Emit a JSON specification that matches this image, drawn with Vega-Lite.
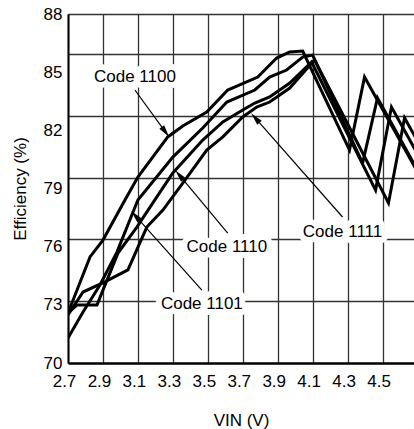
{
  "$schema": "https://vega.github.io/schema/vega-lite/v6.json",
  "width": 346,
  "height": 349,
  "autosize": {"type": "none"},
  "padding": {"left": 68, "top": 14, "right": 0, "bottom": 66},
  "background": "white",
  "config": {"view": {"stroke": null}, "font": "Liberation Sans"},
  "datasets": {
    "curves": [
      {"code": "1100", "vin": 2.7, "eff": 72.58},
      {"code": "1100", "vin": 2.826, "eff": 75.47},
      {"code": "1100", "vin": 2.9, "eff": 76.34},
      {"code": "1100", "vin": 3.026, "eff": 78.41},
      {"code": "1100", "vin": 3.1, "eff": 79.59},
      {"code": "1100", "vin": 3.271, "eff": 81.66},
      {"code": "1100", "vin": 3.357, "eff": 82.22},
      {"code": "1100", "vin": 3.494, "eff": 82.94},
      {"code": "1100", "vin": 3.614, "eff": 84.08},
      {"code": "1100", "vin": 3.786, "eff": 84.75},
      {"code": "1100", "vin": 3.854, "eff": 85.37},
      {"code": "1100", "vin": 3.894, "eff": 85.73},
      {"code": "1100", "vin": 3.969, "eff": 86.04},
      {"code": "1100", "vin": 4.043, "eff": 86.09},
      {"code": "1100", "vin": 4.311, "eff": 80.98},
      {"code": "1100", "vin": 4.397, "eff": 84.75},
      {"code": "1100", "vin": 4.7, "eff": 79.85},
      {"code": "1101", "vin": 2.7, "eff": 71.29},
      {"code": "1101", "vin": 2.786, "eff": 72.63},
      {"code": "1101", "vin": 2.883, "eff": 74.02},
      {"code": "1101", "vin": 2.98, "eff": 75.72},
      {"code": "1101", "vin": 3.1, "eff": 78.41},
      {"code": "1101", "vin": 3.3, "eff": 80.62},
      {"code": "1101", "vin": 3.471, "eff": 82.12},
      {"code": "1101", "vin": 3.609, "eff": 83.46},
      {"code": "1101", "vin": 3.769, "eff": 84.08},
      {"code": "1101", "vin": 3.854, "eff": 84.75},
      {"code": "1101", "vin": 3.951, "eff": 85.11},
      {"code": "1101", "vin": 4.043, "eff": 85.78},
      {"code": "1101", "vin": 4.1, "eff": 85.88},
      {"code": "1101", "vin": 4.386, "eff": 80.31},
      {"code": "1101", "vin": 4.471, "eff": 83.67},
      {"code": "1101", "vin": 4.7, "eff": 79.95},
      {"code": "1110", "vin": 2.7, "eff": 72.58},
      {"code": "1110", "vin": 2.751, "eff": 72.99},
      {"code": "1110", "vin": 2.866, "eff": 72.99},
      {"code": "1110", "vin": 2.9, "eff": 73.76},
      {"code": "1110", "vin": 2.986, "eff": 75.67},
      {"code": "1110", "vin": 3.094, "eff": 77.01},
      {"code": "1110", "vin": 3.197, "eff": 78.41},
      {"code": "1110", "vin": 3.3, "eff": 79.8},
      {"code": "1110", "vin": 3.471, "eff": 81.5},
      {"code": "1110", "vin": 3.586, "eff": 82.43},
      {"code": "1110", "vin": 3.7, "eff": 83.05},
      {"code": "1110", "vin": 3.769, "eff": 83.41},
      {"code": "1110", "vin": 3.854, "eff": 83.72},
      {"code": "1110", "vin": 3.969, "eff": 84.44},
      {"code": "1110", "vin": 4.094, "eff": 85.52},
      {"code": "1110", "vin": 4.46, "eff": 78.92},
      {"code": "1110", "vin": 4.551, "eff": 83.2},
      {"code": "1110", "vin": 4.7, "eff": 80.78},
      {"code": "1111", "vin": 2.7, "eff": 72.48},
      {"code": "1111", "vin": 2.786, "eff": 73.66},
      {"code": "1111", "vin": 2.911, "eff": 74.18},
      {"code": "1111", "vin": 3.043, "eff": 74.8},
      {"code": "1111", "vin": 3.151, "eff": 77.01},
      {"code": "1111", "vin": 3.243, "eff": 77.89},
      {"code": "1111", "vin": 3.357, "eff": 79.28},
      {"code": "1111", "vin": 3.494, "eff": 80.98},
      {"code": "1111", "vin": 3.586, "eff": 81.66},
      {"code": "1111", "vin": 3.7, "eff": 82.69},
      {"code": "1111", "vin": 3.78, "eff": 83.2},
      {"code": "1111", "vin": 3.854, "eff": 83.46},
      {"code": "1111", "vin": 3.969, "eff": 84.18},
      {"code": "1111", "vin": 4.111, "eff": 85.63},
      {"code": "1111", "vin": 4.534, "eff": 78.25},
      {"code": "1111", "vin": 4.626, "eff": 82.64},
      {"code": "1111", "vin": 4.7, "eff": 81.45}
    ],
    "notes": [
      {"label": "Code 1100", "tx": 3.083, "ty": 84.75, "ax": 3.083, "ay": 84.08, "hx": 3.254, "hy": 81.96, "angle": 143.7},
      {"label": "Code 1110", "tx": 3.609, "ty": 75.98, "ax": 3.614, "ay": 76.7, "hx": 3.341, "hy": 79.65, "angle": 320},
      {"label": "Code 1101", "tx": 3.466, "ty": 73.04, "ax": 3.466, "ay": 73.76, "hx": 3.09, "hy": 77.55, "angle": 318},
      {"label": "Code 1111", "tx": 4.271, "ty": 76.76, "ax": 4.271, "ay": 77.53, "hx": 3.776, "hy": 82.59, "angle": 318.6}
    ]
  },
  "resolve": {"axis": {"y": "independent", "x": "independent"}},
  "layer": [
    {
      "data": {"name": "curves"},
      "mark": {"type": "line", "color": "black", "strokeWidth": 3, "clip": true},
      "encoding": {
        "x": {
          "field": "vin", "type": "quantitative",
          "scale": {"domain": [2.7, 4.68], "nice": false, "zero": false},
          "axis": {
            "orient": "bottom",
            "values": [2.7, 2.9, 3.1, 3.3, 3.5, 3.7, 3.9, 4.1, 4.3, 4.5],
            "labelExpr": "format(datum.value, '.1f')",
            "grid": true, "gridColor": "#333", "gridWidth": 1.3,
            "ticks": false, "tickSize": 0,
            "domainColor": "black", "domainWidth": 2.5,
            "labelFontSize": 17, "labelPadding": 10, "labelOffset": -4, "labelFlush": false,
            "labelOverlap": false, "labelSeparation": 0, "labelBound": false,
            "labelColor": "black", "labelFont": "Liberation Sans",
            "title": "VIN (V)", "titleFontSize": 17, "titleFontWeight": "normal",
            "titleColor": "black", "titleFont": "Liberation Sans", "titlePadding": 23
          }
        },
        "y": {
          "field": "eff", "type": "quantitative",
          "scale": {"domain": [70, 88], "nice": false, "zero": false},
          "axis": {
            "orient": "left",
            "values": [70, 73, 76, 79, 82, 85, 88],
            "grid": false, "ticks": false, "tickSize": 0,
            "domainColor": "black", "domainWidth": 2,
            "labelFontSize": 17, "labelPadding": 6, "labelColor": "black", "labelFont": "Liberation Sans",
            "labelOverlap": false,
            "title": "Efficiency (%)", "titleFontSize": 17, "titleFontWeight": "normal",
            "titleColor": "black", "titleFont": "Liberation Sans", "titlePadding": 14
          }
        },
        "detail": {"field": "code"}
      }
    },
    {
      "data": {"name": "notes"},
      "mark": {"type": "rule", "color": "black", "strokeWidth": 1.2},
      "encoding": {
        "x": {"field": "ax", "type": "quantitative", "axis": null},
        "y": {
          "field": "ay", "type": "quantitative",
          "axis": {
            "orient": "right",
            "values": [73.2, 76.4, 79.54, 82.74, 85.94, 88],
            "grid": true, "gridColor": "#333", "gridWidth": 1.3,
            "labels": false, "ticks": false, "domain": false, "title": null
          }
        },
        "x2": {"field": "hx"},
        "y2": {"field": "hy"}
      }
    },
    {
      "data": {"name": "notes"},
      "mark": {"type": "point", "shape": "M0,-1L0.4,0.7L-0.4,0.7Z", "filled": true, "color": "black", "size": 220, "opacity": 1},
      "encoding": {
        "x": {"field": "hx", "type": "quantitative", "axis": null},
        "y": {"field": "hy", "type": "quantitative", "axis": null},
        "angle": {"field": "angle", "type": "quantitative", "scale": null}
      }
    },
    {
      "data": {"name": "notes"},
      "mark": {"type": "text", "fontSize": 17, "font": "Liberation Sans", "color": "white", "stroke": "white", "strokeWidth": 12, "strokeJoin": "round", "baseline": "middle", "align": "center"},
      "encoding": {
        "x": {"field": "tx", "type": "quantitative", "axis": null},
        "y": {"field": "ty", "type": "quantitative", "axis": null},
        "text": {"field": "label"}
      }
    },
    {
      "data": {"name": "notes"},
      "mark": {"type": "text", "fontSize": 17, "font": "Liberation Sans", "color": "black", "baseline": "middle", "align": "center"},
      "encoding": {
        "x": {"field": "tx", "type": "quantitative", "axis": null},
        "y": {"field": "ty", "type": "quantitative", "axis": null},
        "text": {"field": "label"}
      }
    }
  ]
}
